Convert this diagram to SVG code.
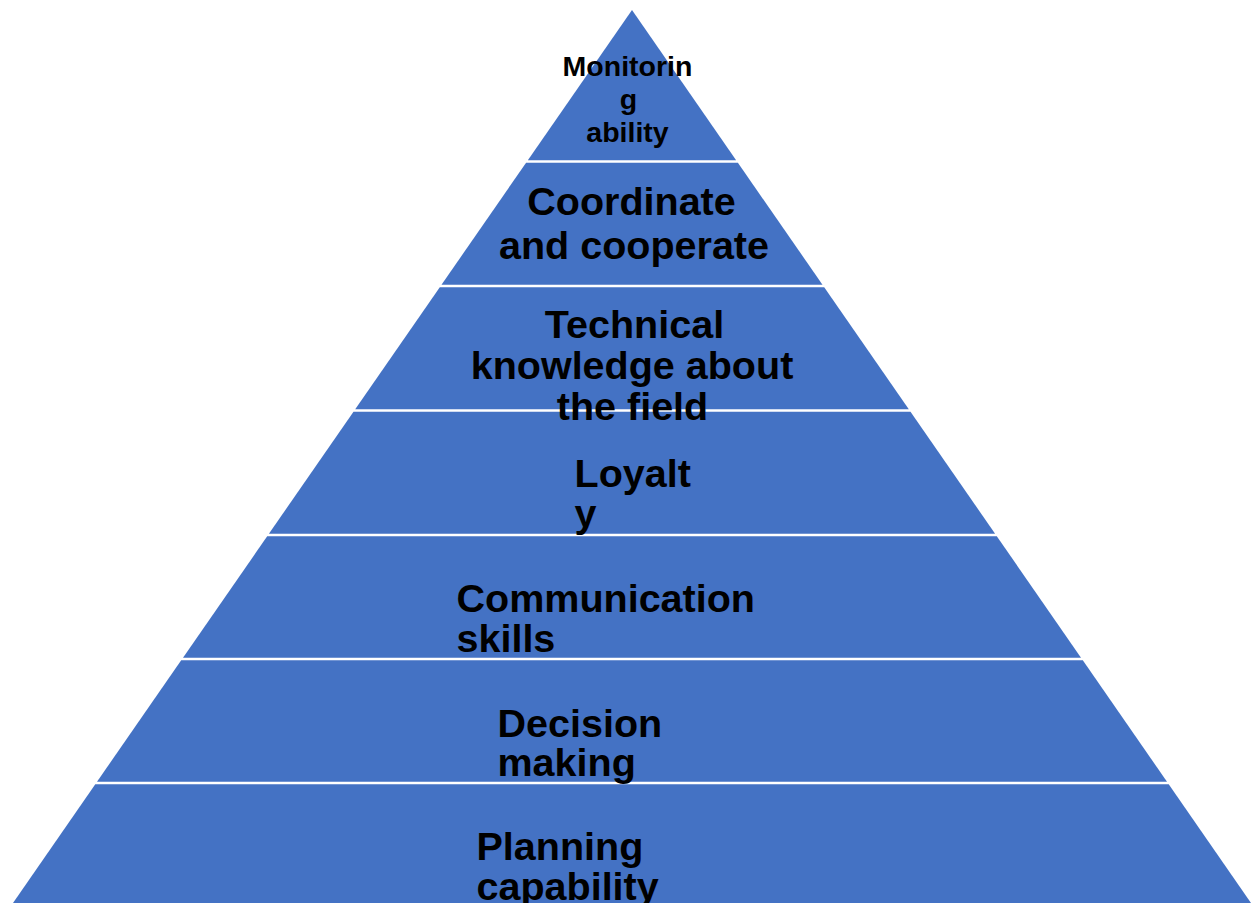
<svg xmlns="http://www.w3.org/2000/svg" width="1253" height="903" viewBox="0 0 1253 903">
<style>
.layer{fill:#4472C4;stroke:none}
.t{font-family:"Liberation Sans",Arial,sans-serif;font-weight:bold;fill:#000}
.big{font-size:39.5px}
.small{font-size:28.5px}
.mid{text-anchor:middle}
</style>
<rect x="0" y="0" width="1253" height="903" fill="#fff"/>
<g id="layer1"><polygon class="layer" points="632,10 736.15,160.25 527.85,160.25"/></g>
<g id="layer2"><polygon class="layer" points="526.1,162.75 737.9,162.75 822.5,284.75 441.5,284.75"/></g>
<g id="layer3"><polygon class="layer" points="439.8,287.25 824.2,287.25 908.8,409.25 355.2,409.25"/></g>
<g id="layer4"><polygon class="layer" points="353.5,411.75 910.5,411.75 995.1,533.75 268.9,533.75"/></g>
<g id="layer5"><polygon class="layer" points="267.2,536.25 996.8,536.25 1081,657.75 183,657.75"/></g>
<g id="layer6"><polygon class="layer" points="181.2,660.25 1082.8,660.25 1167,781.75 97,781.75"/></g>
<g id="layer7"><polygon class="layer" points="95.3,784.25 1168.7,784.25 1251,903 13,903"/></g>
<g id="connectors"></g>
<g id="labels">
<text class="t small mid" x="627.5" y="76">Monitorin</text>
<text class="t small mid" x="628.5" y="109">g</text>
<text class="t small mid" x="627.5" y="142">ability</text>
<text class="t big mid" x="631.5" y="215">Coordinate</text>
<text class="t big mid" x="634" y="259">and cooperate</text>
<text class="t big mid" x="634.5" y="338">Technical</text>
<text class="t big mid" x="632" y="379">knowledge about</text>
<text class="t big mid" x="632.5" y="420">the field</text>
<text class="t big" x="574.5" y="487">Loyalt</text>
<text class="t big" x="574.5" y="527">y</text>
<text class="t big" x="456.5" y="611.5">Communication</text>
<text class="t big" x="456.5" y="651.5">skills</text>
<text class="t big" x="497.5" y="736.5">Decision</text>
<text class="t big" x="497.5" y="776">making</text>
<text class="t big" x="476.5" y="860">Planning</text>
<text class="t big" x="476.5" y="900">capability</text>
</g>
</svg>
